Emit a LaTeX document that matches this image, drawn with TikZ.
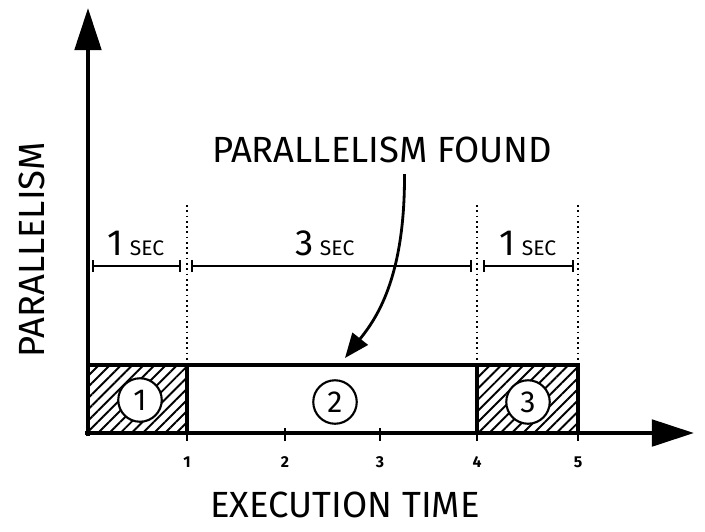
\documentclass[tikz,border=0pt]{standalone}
\usepackage{fontspec}
\setmainfont{Fira Sans}
\usetikzlibrary{patterns.meta,arrows.meta}

\begin{document}
\begin{tikzpicture}[x=0.02cm,y=-0.02cm,
    axis/.style={line width=2.4pt,-{Triangle[length=24pt,width=15pt]}},
    bar/.style={line width=2pt},
    hatched/.style={bar,pattern={Lines[angle=45,distance=4.5pt,line width=1.1pt]}},
    guide/.style={dotted,line width=1pt},
    span/.style={line width=1.2pt,{Bar[width=7pt]}-{Bar[width=7pt]}},
    num/.style={circle,draw,line width=1.2pt,fill=white,minimum size=0.87cm,inner sep=0pt,font=\LARGE},
    ticklabel/.style={font=\small\bfseries}]
    \useasboundingbox (0,0) rectangle (705,531);
    % axes
    \coordinate (O) at (88,433);
    \coordinate (ytop) at (88,8);
    \coordinate (xend) at (694,433);
    \draw[axis] (88,436) -- (ytop);
    \draw[axis] (85,433) -- (xend);
    % bars
    \draw[hatched] (88,365) rectangle (187,433);
    \draw[bar] (187,365) rectangle (477,433);
    \draw[hatched] (477,365) rectangle (578,433);
    \node[num] (one) at (140,400) {1};
    \node[num] (two) at (335,402) {2};
    \node[num] (three) at (528,402) {3};
    % ticks
    \foreach \x/\n in {187/1,285/2,380/3,477/4,578/5} {
        \draw[line width=1.4pt] (\x,428) -- (\x,441);
        \node[ticklabel] (t\n) at (\x,462) {\n};
    }
    % guides
    \foreach \x in {187,477,578}
        \draw[guide] (\x,205) -- (\x,365);
    % spans
    \draw[span] (92,266) -- (181,266);
    \draw[span] (191,266) -- (472,266);
    \draw[span] (483,266) -- (574,266);
    \node (s1) at (136,243) {\huge 1\,\large SEC};
    \node (s2) at (325,243) {\huge 3\,\large SEC};
    \node (s3) at (528,243) {\huge 1\,\large SEC};
    % labels
    \node (found) at (382,150) {\huge PARALLELISM FOUND};
    \coordinate (hit) at (345,358);
    \draw[line width=1.6pt,-{Triangle[length=14pt,width=11pt]}] ([xshift=0.45cm,yshift=-0.1cm]found.south) .. controls (405,280) and (375,320) .. (hit);
    \node[rotate=90] (ylab) at (32,250) {\huge PARALLELISM};
    \node (xlab) at (345,505) {\huge EXECUTION TIME};
\end{tikzpicture}
\end{document}
